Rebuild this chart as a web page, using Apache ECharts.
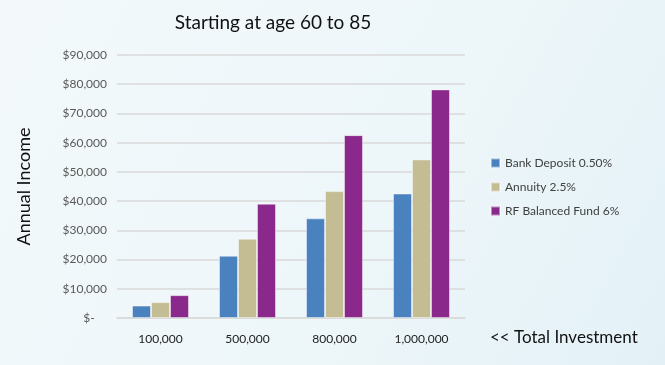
<!DOCTYPE html>
<html>
<head>
<meta charset="utf-8">
<script src="https://cdn.jsdelivr.net/npm/echarts@6/dist/echarts.min.js"></script>
<style>
html,body{margin:0;padding:0;}
#c{width:665px;height:365px;}
</style>
</head>
<body>
<div id="c"></div>
<script>
const categories = ['100,000', '500,000', '800,000', '1,000,000'];
const bankDeposit = [4260, 21300, 34100, 42600];
const annuity = [5430, 27140, 43420, 54280];
const balancedFund = [7820, 39110, 62580, 78230];
const seriesNames = ['Bank Deposit 0.50%', 'Annuity 2.5%', 'RF Balanced Fund 6%'];
const yTicks = [0, 10000, 20000, 30000, 40000, 50000, 60000, 70000, 80000, 90000];

const FONT = 'Lato, "Open Sans", sans-serif';
const chart = echarts.init(document.getElementById('c'));
const mk = (name, data, color) => ({
  name, type: 'bar', data,
  barWidth: 19, barGap: '0%',
  itemStyle: { color, borderColor: 'rgba(255,255,255,0.45)', borderWidth: 1 }
});
chart.setOption({
  animation: false,
  backgroundColor: new echarts.graphic.LinearGradient(0, 0, 1, 1, [
    { offset: 0, color: '#f3f9fb' },
    { offset: 0.6, color: '#edf6f9' },
    { offset: 1, color: '#e3f1f7' }
  ]),
  title: {
    text: 'Starting at age 60 to 85',
    left: 268, top: 8, textAlign: 'center',
    textStyle: { fontFamily: FONT, fontSize: 19, fontWeight: 'normal', color: '#111' }
  },
  grid: { left: 117, right: 200, top: 55, bottom: 47 },
  legend: {
    orient: 'vertical', left: 485, top: 152, itemGap: 12,
    itemWidth: 9, itemHeight: 9, icon: 'rect',
    textStyle: { fontFamily: FONT, fontSize: 12, color: '#404040' },
    data: seriesNames
  },
  xAxis: {
    type: 'category', data: categories,
    axisLine: { show: true, lineStyle: { color: '#d9d9d9', width: 1.5 } },
    axisTick: { show: false },
    axisLabel: { margin: 15, fontFamily: FONT, fontSize: 12, color: '#222' }
  },
  yAxis: {
    type: 'value', min: yTicks[0], max: yTicks[yTicks.length - 1], interval: 10000,
    name: 'Annual Income', nameLocation: 'middle', nameGap: 84,
    nameTextStyle: { fontFamily: FONT, fontSize: 18, color: '#111' },
    axisLine: { show: false }, axisTick: { show: false },
    splitLine: { lineStyle: { color: '#d9d9d9', width: 1.5 } },
    axisLabel: {
      margin: 10, fontFamily: FONT, fontSize: 12, color: '#595959',
      formatter: v => v === 0 ? '$-    ' : '$' + v.toLocaleString('en-US')
    }
  },
  graphic: [{
    type: 'text', left: 490, top: 329,
    style: { text: '<< Total Investment', font: '17px ' + FONT, fill: '#111' }
  }],
  series: [
    mk(seriesNames[0], bankDeposit, '#4a81bf'),
    mk(seriesNames[1], annuity, '#c4bd94'),
    mk(seriesNames[2], balancedFund, '#8b288b')
  ]
});
</script>
</body>
</html>
